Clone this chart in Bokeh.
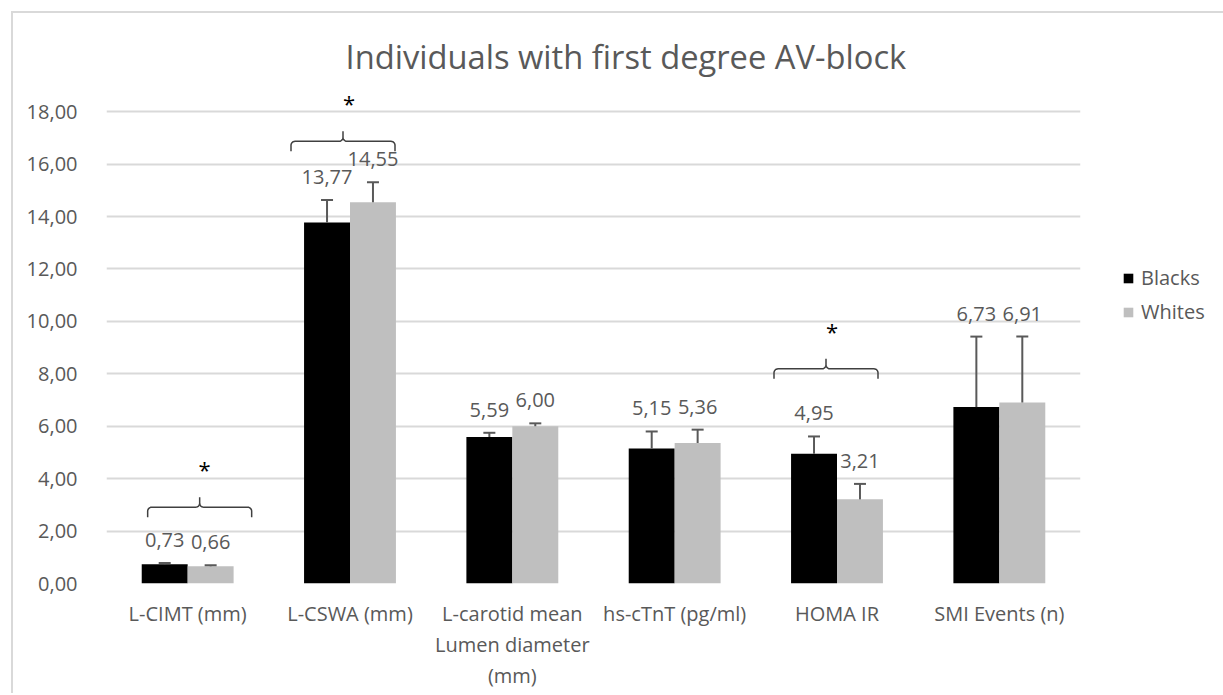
import numpy as np
from bokeh.plotting import figure
from bokeh.models import (ColumnDataSource, Whisker, TeeHead, Legend, LegendItem,
                          FixedTicker, CustomJSTickFormatter, Range1d)
from bokeh.core.properties import value
from bokeh.embed import file_html
from bokeh.resources import INLINE

# ---------------- data ----------------
categories = ["L-CIMT (mm)", "L-CSWA (mm)", "L-carotid mean\nLumen diameter\n(mm)",
              "hs-cTnT (pg/ml)", "HOMA IR", "SMI Events (n)"]
blacks = [0.73, 13.77, 5.59, 5.15, 4.95, 6.73]
whites = [0.66, 14.55, 6.00, 5.36, 3.21, 6.91]
blacks_err_top = [0.78, 14.63, 5.75, 5.80, 5.61, 9.42]
whites_err_top = [0.70, 15.31, 6.11, 5.87, 3.80, 9.42]
series_names = ["Blacks", "Whites"]
y_ticks = [0, 2, 4, 6, 8, 10, 12, 14, 16, 18]
significant = ["L-CIMT (mm)", "L-CSWA (mm)", "HOMA IR"]
title_text = "Individuals with first degree AV-block"

# ---------------- style ----------------
FONT = "Open Sans"
TXT = "#595959"
COLORS = ["#000000", "#bfbfbf"]
Y_MAX = 19
FRAME_W, FRAME_H = 974, 498
BAR_W = 0.283
brace_levels = [2.91, 16.87, 8.19]     # annotation placement (data units)
brace_shift_px = [12, -7, -11]         # horizontal nudge of braces (pixels)
star_shift_px = [17, -1, -5]           # horizontal nudge of asterisks (pixels)

n = len(categories)
centers = np.arange(n) + 0.5
px_x = FRAME_W / n
px_y = FRAME_H / Y_MAX

p = figure(width=1210, height=682, frame_width=FRAME_W, frame_height=FRAME_H,
           x_range=Range1d(0, n), y_range=Range1d(0, Y_MAX),
           output_backend="svg", toolbar_location=None,
           min_border_left=93, min_border_right=143, min_border_top=72, min_border_bottom=112)
p.styles = {"margin-left": "13px", "margin-top": "13px",
            "box-shadow": "-2px -2px 0px 0px #d9d9d9"}
p.outline_line_color = None
p.background_fill_color = "white"
p.border_fill_color = "white"

# title
p.title.text = title_text
p.title.text_font = FONT
p.title.text_font_size = "32.7px"
p.title.text_font_style = "normal"
p.title.text_color = TXT
p.title.align = "left"
p.title.offset = 239
p.title.standoff = 13

# grid
p.xgrid.visible = False
p.ygrid.grid_line_color = "#d9d9d9"
p.ygrid.grid_line_width = 2
p.ygrid.ticker = FixedTicker(ticks=y_ticks)

# y axis
p.yaxis.ticker = FixedTicker(ticks=y_ticks)
p.yaxis.formatter = CustomJSTickFormatter(code="return tick.toFixed(2).replace('.', ',');")
p.yaxis.axis_line_color = None
p.yaxis.major_tick_line_color = None
p.yaxis.minor_tick_line_color = None
p.yaxis.major_label_standoff = 23
p.yaxis.major_label_text_font = FONT
p.yaxis.major_label_text_font_size = "20px"
p.yaxis.major_label_text_color = TXT

# x axis
p.xaxis.ticker = FixedTicker(ticks=list(centers))
p.xaxis.major_label_overrides = {float(c): lab for c, lab in zip(centers, categories)}
p.xaxis.axis_line_color = None
p.xaxis.major_tick_line_color = None
p.xaxis.minor_tick_line_color = None
p.xaxis.major_label_standoff = 10
p.xaxis.major_label_text_font = FONT
p.xaxis.major_label_text_font_size = "20px"
p.xaxis.major_label_text_color = TXT
p.xaxis.major_label_text_line_height = 1.15

# bars, error bars, labels
renderers = []
for k, (vals, errs, name) in enumerate(zip([blacks, whites], [blacks_err_top, whites_err_top], series_names)):
    xs = centers + (k - 0.5) * BAR_W
    src = ColumnDataSource(dict(x=xs, top=vals, err=errs,
                                lab=[f"{v:.2f}".replace(".", ",") for v in vals]))
    r = p.vbar(x="x", top="top", width=BAR_W, source=src, fill_color=COLORS[k],
               line_color=None)
    renderers.append(r)
    w = Whisker(source=src, base="x", upper="err", lower="top", dimension="height",
                line_color=TXT, line_width=2,
                upper_head=TeeHead(size=12, line_color=TXT, line_width=2), lower_head=None)
    w.level = "annotation"
    p.add_layout(w)
    p.text(x="x", y="err", text="lab", source=src, text_align="center",
           text_baseline="middle", y_offset=-23, text_font=value(FONT),
           text_font_size="20px", text_color=TXT)

# braces with asterisks
def brace_path(cx, y0, half=52, drop=10, bump=10, r=4):
    pts = []
    t = np.linspace(0, np.pi / 2, 8)
    pts.append((-half, -drop))
    for a in t:
        pts.append((-half + r - r * np.cos(a), -r + r * np.sin(a)))
    for a in t:
        pts.append((-r + r * np.sin(a), r * (1 - np.cos(a))))
    pts.append((0, bump))
    for a in t[::-1]:
        pts.append((r - r * np.sin(a), r * (1 - np.cos(a))))
    for a in t[::-1]:
        pts.append((half - r + r * np.cos(a), -r + r * np.sin(a)))
    pts.append((half, -drop))
    xs = [cx + px / px_x for px, _ in pts]
    ys = [y0 + py / px_y for _, py in pts]
    return xs, ys

for cat, lvl, bs, ss in zip(significant, brace_levels, brace_shift_px, star_shift_px):
    cx = centers[categories.index(cat)]
    bx, by = brace_path(cx + bs / px_x, lvl)
    p.line(bx, by, line_color="#404040", line_width=1.5)
    p.text(x=[cx], y=[lvl], text=["*"], text_align="center", text_baseline="middle",
           x_offset=ss, y_offset=-38, text_font=value(FONT), text_font_size="22px",
           text_color="#000000")

legend = Legend(items=[LegendItem(label=nm, renderers=[r]) for nm, r in zip(series_names, renderers)],
                location=(42, 258), orientation="vertical",
                glyph_width=12, glyph_height=12, label_standoff=7, label_height=24,
                spacing=7, padding=0, margin=0, border_line_color=None,
                background_fill_alpha=0, label_text_font=FONT,
                label_text_font_size="20px", label_text_color=TXT)
p.add_layout(legend, "right")

open("out.html", "w").write(file_html(p, INLINE))
